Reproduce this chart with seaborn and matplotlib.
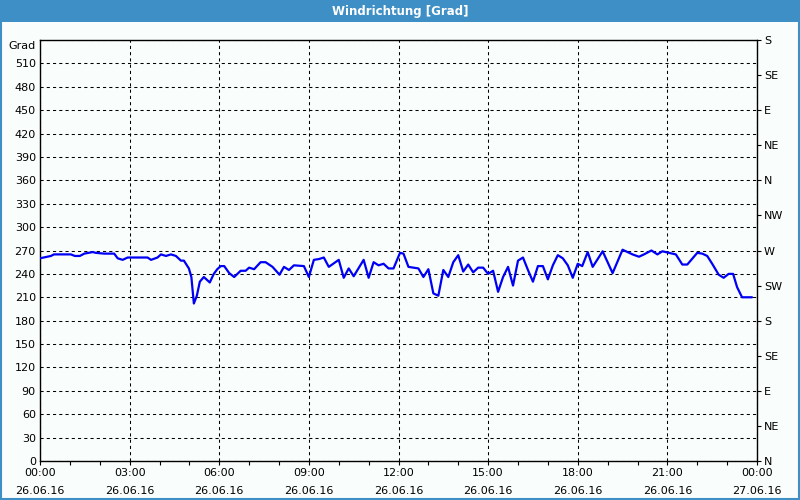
import numpy as np
import pandas as pd
import matplotlib
matplotlib.use("Agg")
import matplotlib.pyplot as plt
import matplotlib.transforms as mtransforms
import seaborn as sns
from matplotlib.patches import Rectangle

# ---- data (minutes since 26.06.16 00:00, wind direction in degrees) ----
minutes = [0, 22, 28, 56, 62, 70, 80, 89, 106, 112, 129, 149, 156, 166, 176, 196,
           216, 223, 236, 243, 253, 263, 273, 283, 289, 299, 304, 309, 315, 321,
           329, 341, 349, 356, 363, 370, 380, 390, 403, 413, 420, 430, 443, 453,
           467, 481, 490, 500, 510, 530, 540, 550, 560, 570, 580, 600, 610, 620,
           630, 650, 660, 670, 680, 690, 700, 710, 723, 730, 740, 750, 760, 770,
           780, 790, 800, 810, 820, 830, 840, 850, 860, 870, 880, 890, 900, 910,
           920, 930, 940, 950, 960, 970, 980, 990, 1000, 1010, 1020, 1030, 1040,
           1050, 1060, 1070, 1080, 1089, 1100, 1110, 1130, 1150, 1170, 1190, 1203,
           1213, 1228, 1240, 1250, 1263, 1277, 1290, 1300, 1320, 1330, 1340, 1350,
           1363, 1373, 1383, 1392, 1400, 1410, 1420, 1430]
direction = [260, 263, 265, 265, 265, 263, 263, 266, 268, 267, 266, 266, 260, 258,
             261, 261, 261, 258, 261, 265, 263, 265, 263, 257, 257, 247, 236, 202,
             212, 230, 236, 229, 240, 246, 250, 250, 241, 236, 244, 244, 248, 246,
             255, 255, 249, 239, 249, 245, 251, 250, 236, 258, 259, 261, 249, 258,
             235, 247, 237, 258, 235, 255, 251, 253, 247, 247, 267, 266, 249, 248,
             247, 236, 246, 215, 212, 245, 236, 255, 264, 243, 252, 242, 248, 248,
             240, 244, 217, 236, 249, 225, 257, 261, 245, 230, 250, 250, 233, 251,
             264, 260, 251, 235, 253, 250, 268, 249, 269, 241, 271, 265, 262, 265,
             270, 265, 269, 267, 265, 252, 252, 267, 266, 263, 253, 239, 235, 240,
             240, 223, 210, 210, 210]

x_tick_hours = [0, 3, 6, 9, 12, 15, 18, 21, 24]
x_tick_labels = ["00:00\n26.06.16", "03:00\n26.06.16", "06:00\n26.06.16",
                 "09:00\n26.06.16", "12:00\n26.06.16", "15:00\n26.06.16",
                 "18:00\n26.06.16", "21:00\n26.06.16", "00:00\n27.06.16"]
y_ticks = list(range(0, 541, 30))
y_labels = [str(v) for v in range(0, 511, 30)] + ["Grad"]
compass_ticks = list(range(0, 541, 45))
compass_labels = ["N", "NE", "E", "SE", "S", "SW", "W", "NW",
                  "N", "NE", "E", "SE", "S"]

bg = "#f9fdfb"
frame_blue = "#3d8fc6"

sns.set_theme(style="white")
plt.rcParams['font.family'] = ['DejaVu Sans']
plt.rcParams['text.color'] = 'black'
plt.rcParams['xtick.color'] = 'black'
plt.rcParams['ytick.color'] = 'black'

fig = plt.figure(figsize=(8, 5), dpi=100, facecolor=bg)
ax = fig.add_axes([40 / 800, 39 / 500, 717 / 800, 421 / 500])
ax.set_facecolor(bg)

df = pd.DataFrame({"t": np.array(minutes) / 60.0, "deg": direction})
sns.lineplot(data=df, x="t", y="deg", ax=ax, color="#0000f5", linewidth=1.6,
             zorder=3)

ax.set_xlim(0, 24)
ax.set_ylim(0, 540)
ax.set_xlabel("")
ax.set_ylabel("")

ax.set_xticks(x_tick_hours)
ax.set_xticklabels(x_tick_labels, fontsize=8, linespacing=2.05, color="black")
ax.set_xticks(list(range(0, 25)), minor=True)
ax.set_yticks(y_ticks)
ax.set_yticklabels(y_labels, fontsize=8, color="black")

ax.tick_params(axis="x", which="both", direction="out", length=3, width=0.8,
               color="black", pad=2, bottom=True, labelcolor="black")
ax.tick_params(axis="y", which="both", length=0, pad=3, labelcolor="black")

# "Grad" label sits a little below the top edge
grad_lbl = ax.get_yticklabels()[-1]
grad_lbl.set_transform(grad_lbl.get_transform() +
                       mtransforms.ScaledTranslation(0, -5 / 100, fig.dpi_scale_trans))

ax.grid(True, which="major", linestyle=(0, (3, 3)), color="black", linewidth=0.75)
for s in ax.spines.values():
    s.set_color("black")
    s.set_linewidth(1.0)
    s.set_visible(True)

ax2 = ax.twinx()
ax2.set_ylim(0, 540)
ax2.set_yticks(compass_ticks)
ax2.set_yticklabels(compass_labels, fontsize=8, color="black")
ax2.tick_params(axis="y", direction="out", length=3, width=0.8, color="black",
                pad=2, right=True, labelcolor="black")
ax2.grid(False)
for s in ax2.spines.values():
    s.set_visible(False)

# title bar and frame
fig.patches.append(Rectangle((0, 1 - 22 / 500), 1, 22 / 500, transform=fig.transFigure,
                             facecolor=frame_blue, edgecolor="none", zorder=0))
fig.patches.append(Rectangle((0.001, 0.002), 0.998, 0.996, transform=fig.transFigure,
                             fill=False, edgecolor=frame_blue, linewidth=1.5, zorder=5))
fig.text(0.5, 1 - 11 / 500, "Windrichtung [Grad]", color="white", fontsize=8.5,
         fontweight="bold", ha="center", va="center")

fig.savefig("out.png", dpi=100, facecolor=bg)
